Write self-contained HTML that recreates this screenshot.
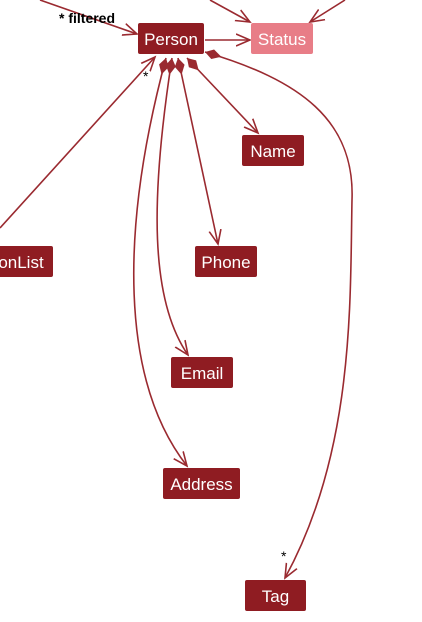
<!DOCTYPE html>
<html><head><style>
html,body{margin:0;padding:0;background:#fff;}
svg{display:block;}
text{font-family:"Liberation Sans",sans-serif;}
</style></head><body>
<svg width="422" height="622" viewBox="0 0 422 622" xmlns="http://www.w3.org/2000/svg">
<defs>
<marker id="a" markerWidth="16" markerHeight="14" refX="14" refY="7" orient="auto" markerUnits="userSpaceOnUse">
<path d="M0,1 L14,7 L0,13" fill="none" stroke="#9a2a30" stroke-width="1.6"/>
</marker>
<marker id="d" markerWidth="20" markerHeight="12" refX="1" refY="6" orient="auto" markerUnits="userSpaceOnUse">
<path d="M1,6 L9,1 L18,6 L9,11 Z" fill="#9a2a30"/>
</marker>
</defs>
<g stroke="#9a2a30" stroke-width="1.6" fill="none">
<path d="M40,0 L137,34" marker-end="url(#a)"/>
<path d="M210,0 L250,22" marker-end="url(#a)"/>
<path d="M345,0 L310,22" marker-end="url(#a)"/>
<path d="M205,40 L250,40" marker-end="url(#a)"/>
<path d="M0,228 L155,57" marker-end="url(#a)"/>
<path d="M187,58 L258,133" marker-start="url(#d)" marker-end="url(#a)"/>
<path d="M178,58 L218,244" marker-start="url(#d)" marker-end="url(#a)"/>
<path d="M172,58 C150,200 150,300 188,355" marker-start="url(#d)" marker-end="url(#a)"/>
<path d="M166,58 C120,230 120,380 187,466" marker-start="url(#d)" marker-end="url(#a)"/>
<path d="M205,52 C300,80 355,120 352,200 C350,300 355,450 285,578" marker-start="url(#d)" marker-end="url(#a)"/>
</g>
<g fill="#8f1c22">
<rect x="138" y="23" width="66" height="31" rx="2"/>
<rect x="242" y="135" width="62" height="31" rx="2"/>
<rect x="195" y="246" width="62" height="31" rx="2"/>
<rect x="171" y="357" width="62" height="31" rx="2"/>
<rect x="163" y="468" width="77" height="31" rx="2"/>
<rect x="245" y="580" width="61" height="31" rx="2"/>
<rect x="-10" y="246" width="63" height="31" rx="2"/>
</g>
<rect x="251" y="23" width="62" height="31" rx="2" fill="#e87d87"/>
<g fill="#fff" font-size="17" text-anchor="middle">
<text x="171" y="45">Person</text>
<text x="282" y="45">Status</text>
<text x="273" y="157">Name</text>
<text x="226" y="268">Phone</text>
<text x="202" y="379">Email</text>
<text x="201.5" y="490">Address</text>
<text x="275.5" y="602">Tag</text>
<text x="21" y="268">onList</text>
</g>
<g fill="#000" font-size="14">
<text x="59" y="23" font-weight="bold">* filtered</text>
<text x="143" y="81">*</text>
<text x="281" y="561">*</text>
</g>
</svg>
</body></html>
